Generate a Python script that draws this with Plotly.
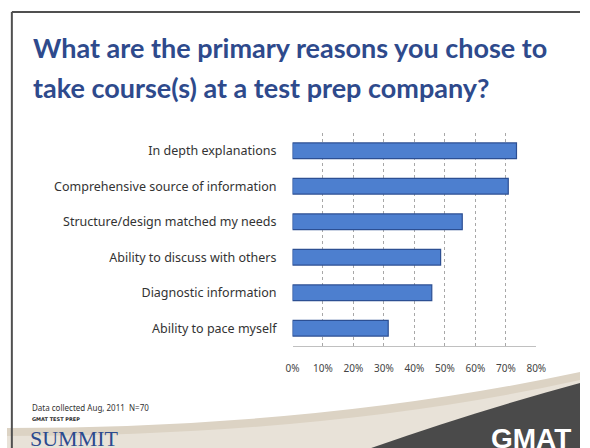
import plotly.graph_objects as go

W, H = 590, 448

categories = [
    "In depth explanations",
    "Comprehensive source of information",
    "Structure/design matched my needs",
    "Ability to discuss with others",
    "Diagnostic information",
    "Ability to pace myself",
]
values = [73.5, 70.8, 55.7, 48.6, 45.7, 31.4]
x_ticks = [0, 10, 20, 30, 40, 50, 60, 70, 80]
x_tick_labels = [f"{t}%" for t in x_ticks]

title_line1 = "What are the primary reasons you chose to"
title_line2 = "take course(s) at a test prep company?"
footer_note = "Data collected Aug, 2011  N=70"


def px(x):
    return x / W


def py(y):
    return 1 - y / H


fig = go.Figure()
fig.add_trace(go.Bar(
    y=categories[::-1],
    x=values[::-1],
    orientation="h",
    marker=dict(color="#4D7FCF", line=dict(color="#2C4F93", width=1.2)),
    width=0.44,
    hoverinfo="skip",
))

fig.update_layout(
    width=W, height=H,
    autosize=False,
    margin=dict(l=0, r=0, t=0, b=0),
    paper_bgcolor="#FFFFFF",
    plot_bgcolor="rgba(0,0,0,0)",
    showlegend=False,
    font=dict(family="Noto Sans, sans-serif", color="#333333"),
    xaxis=dict(
        domain=[px(294), px(545)],
        range=[0, 80],
        tickvals=x_ticks,
        ticktext=x_tick_labels,
        tickfont=dict(size=10, color="#444444"),
        showgrid=True,
        gridcolor="#A8A8A8",
        griddash="dot",
        gridwidth=1,
        zeroline=False,
        showline=True,
        linecolor="#C0C0C0",
        ticks="",
        ticklabelstandoff=13,
        fixedrange=True,
    ),
    yaxis=dict(
        domain=[py(346), py(133)],
        tickfont=dict(size=12.5, color="#333333"),
        showgrid=False,
        zeroline=False,
        showline=False,
        ticks="",
        ticklabelstandoff=15,
        fixedrange=True,
    ),
)

shapes = []
shapes.append(dict(
    type="path", xref="paper", yref="paper", layer="below",
    path=f"M {px(0)},{py(428)} Q {px(320)},{py(428)} {px(590)},{py(372)} L {px(590)},{py(448)} L {px(0)},{py(448)} Z",
    fillcolor="#DCD3C4", line=dict(width=0),
))
shapes.append(dict(
    type="path", xref="paper", yref="paper", layer="below",
    path=f"M {px(0)},{py(436)} Q {px(330)},{py(436)} {px(590)},{py(380)} L {px(590)},{py(448)} L {px(0)},{py(448)} Z",
    fillcolor="#E8E2D8", line=dict(width=0),
))
shapes.append(dict(
    type="path", xref="paper", yref="paper", layer="below",
    path=f"M {px(375)},{py(448)} Q {px(480)},{py(412)} {px(590)},{py(383)} L {px(590)},{py(448)} Z",
    fillcolor="#4A4A4A", line=dict(width=0),
))
shapes.append(dict(type="line", xref="paper", yref="paper",
                   x0=px(5), x1=px(590), y0=py(12), y1=py(12),
                   line=dict(color="#505050", width=2)))
shapes.append(dict(type="line", xref="paper", yref="paper",
                   x0=px(5), x1=px(5), y0=py(12), y1=py(448),
                   line=dict(color="#505050", width=2)))
fig.update_layout(shapes=shapes)

ann = []
ann.append(dict(text=f"<b>{title_line1}</b>", xref="paper", yref="paper",
                x=px(25), y=py(47), xanchor="left", yanchor="middle", showarrow=False,
                font=dict(family="Lato, sans-serif", size=27, color="#2E4A8C")))
ann.append(dict(text=f"<b>{title_line2}</b>", xref="paper", yref="paper",
                x=px(25), y=py(87), xanchor="left", yanchor="middle", showarrow=False,
                font=dict(family="Lato, sans-serif", size=27, color="#2E4A8C")))
ann.append(dict(text=footer_note, xref="paper", yref="paper",
                x=px(24), y=py(407), xanchor="left", yanchor="middle", showarrow=False,
                font=dict(family="Noto Sans, sans-serif", size=8, color="#333333")))
ann.append(dict(text="<b>GMAT TEST PREP</b>", xref="paper", yref="paper",
                x=px(24), y=py(419), xanchor="left", yanchor="middle", showarrow=False,
                font=dict(family="DejaVu Sans, sans-serif", size=5, color="#2B2B2B")))
ann.append(dict(text="SUMMIT", xref="paper", yref="paper",
                x=px(22), y=py(424), xanchor="left", yanchor="top", showarrow=False,
                font=dict(family="Liberation Serif, serif", size=22, color="#2B4A8F")))
ann.append(dict(text="<b>GMAT</b>", xref="paper", yref="paper",
                x=px(496), y=py(421), xanchor="left", yanchor="top", showarrow=False,
                font=dict(family="Liberation Sans, sans-serif", size=28, color="#FFFFFF")))
fig.update_layout(annotations=ann)

fig.write_html(
    "out.html",
    config={"displayModeBar": False, "responsive": False},
    post_script="document.body.style.margin='0';document.body.style.overflow='hidden';",
)
